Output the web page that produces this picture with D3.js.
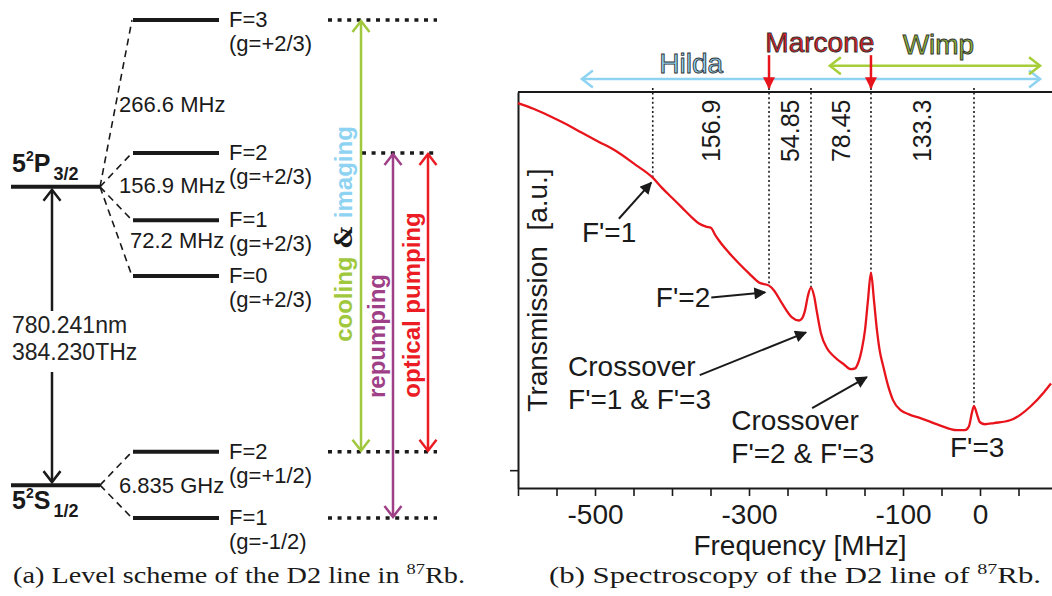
<!DOCTYPE html>
<html>
<head>
<meta charset="utf-8">
<script src="https://cdn.jsdelivr.net/npm/d3@7"></script>
<style>
  body { margin: 0; background: #fff; }
  svg { display: block; font-family: "Liberation Sans", Arial, sans-serif; }
</style>
</head>
<body>
<div id="figure"></div>
<script>
// ---------- panel (a): level scheme, positions in diagram units (0 = lowest level, 1 = highest)
const fineTerms = ["P", "S"];
const fineSubs = ["3/2", "1/2"];
const finePos = [0.665, 0.066];

const excitedNames = ["F=3", "F=2", "F=1", "F=0"];
const excitedG = ["(g=+2/3)", "(g=+2/3)", "(g=+2/3)", "(g=+2/3)"];
const excitedPos = [1.0, 0.733, 0.598, 0.486];

const groundNames = ["F=2", "F=1"];
const groundG = ["(g=+1/2)", "(g=-1/2)"];
const groundPos = [0.133, 0.0];

const splitLabels = ["266.6 MHz", "156.9 MHz", "72.2 MHz", "6.835 GHz"];
const splitPos = [0.815, 0.653, 0.542, 0.050];

const opticalLine = ["780.241nm", "384.230THz"];

// beams: lower level pos -> upper level pos
const beamNames = ["cooling & imaging", "repumping", "optical pumping"];
const beamLower = [0.133, 0.0, 0.133];
const beamUpper = [1.0, 0.733, 0.733];

// ---------- panel (b): spectroscopy
const freq = [-600, -579.2, -559.7, -537.7, -516.9, -494.8, -472.7, -449.4, -424.7, -413.0,
  -400.0, -387.0, -374.0, -364.9, -355.8, -349.4, -344.2, -339.0, -326.0, -313.0,
  -300.0, -287.0, -274.0, -267.5, -257.1, -244.2, -235.1, -231.2, -227.3, -223.4,
  -219.5, -215.6, -211.7, -206.5, -198.7, -189.6, -176.6, -167.5, -162.3, -158.4,
  -153.2, -149.4, -145.5, -141.6, -137.7, -133.8, -129.9, -126.0, -119.5, -113.0,
  -102.6, -92.2, -76.6, -53.2, -29.9, -19.5, -14.3, -10.4, -7.8, -3.9,
  0.0, 6.5, 18.2, 39.0, 53.2, 66.2, 83.1, 92.2];
const trans = [0.972, 0.957, 0.940, 0.919, 0.897, 0.874, 0.851, 0.819, 0.783, 0.758,
  0.733, 0.708, 0.683, 0.668, 0.660, 0.657, 0.640, 0.625, 0.594, 0.567,
  0.542, 0.519, 0.511, 0.499, 0.466, 0.431, 0.423, 0.428, 0.448, 0.486,
  0.506, 0.486, 0.443, 0.390, 0.353, 0.332, 0.312, 0.300, 0.302, 0.315,
  0.353, 0.398, 0.474, 0.544, 0.474, 0.398, 0.343, 0.310, 0.259, 0.222,
  0.196, 0.186, 0.176, 0.159, 0.146, 0.146, 0.156, 0.191, 0.207, 0.186,
  0.166, 0.161, 0.164, 0.171, 0.186, 0.207, 0.242, 0.264];

const lineNames = ["F'=1", "F'=2", "CO 1-3", "CO 2-3", "F'=3"];
const lineFreq = [-425, -274, -219.5, -141.6, -7.8];
const lineTrans = [0.783, 0.511, 0.506, 0.544, 0.207];
const gapLabels = ["156.9", "54.85", "78.45", "133.3"];

const freqTicks = [-600, -550, -500, -450, -400, -350, -300, -250, -200, -150, -100, -50, 0, 50, 100];
const freqTickLabels = [-500, -300, -100, 0];
const transTicks = [0.045];

// lasers: ranges and single lines
const laserNames = ["Hilda", "Wimp"];
const laserFrom = [-517, -195];
const laserTo = [78, 78];
const laserLevel = [1.033, 1.066];
const marconeLines = [-274, -141.6];

// annotation labels [freq, trans] of the text anchor, arrows tail -> head
const noteText = [["F'=1"], ["F'=2"], ["Crossover", "F'=1 & F'=3"], ["Crossover", "F'=2 & F'=3"], ["F'=3"]];
const noteFreq = [-517, -421, -535, -323, -39];
const noteTrans = [0.620, 0.458, 0.282, 0.146, 0.078];
const arrowTail = [[-469, 0.680], [-349, 0.481], [-364, 0.285], [-218, 0.202]];
const arrowHead = [[-427, 0.771], [-279, 0.494], [-226, 0.393], [-147, 0.280]];

const ink = "#1a1a1a";

const svg = d3.select("#figure")
    .append("svg")
    .attr("width", 1052)
    .attr("height", 596);
svg.append("rect").attr("width", 1052).attr("height", 596).attr("fill", "#fff");

const defs = svg.append("defs");
function triMarker(id, color) {
    defs.append("marker")
        .attr("id", id)
        .attr("viewBox", "0 0 10 10")
        .attr("refX", 9).attr("refY", 5)
        .attr("markerWidth", 15).attr("markerHeight", 12)
        .attr("markerUnits", "userSpaceOnUse")
        .attr("orient", "auto")
        .append("path").attr("d", "M0,0 L10,5 L0,10 z").attr("fill", color);
}
triMarker("tri-black", ink);
triMarker("tri-red", "#e8141c");

// open arrow head, dir: "up" | "down" | "left" | "right"
function chevron(g, px, py, dir, color, w) {
    const s = 8.5, l = 11;
    let d;
    if (dir === "up") d = `M${px - s},${py + l} L${px},${py} L${px + s},${py + l}`;
    if (dir === "down") d = `M${px - s},${py - l} L${px},${py} L${px + s},${py - l}`;
    if (dir === "left") d = `M${px + l},${py - s} L${px},${py} L${px + l},${py + s}`;
    if (dir === "right") d = `M${px - l},${py - s} L${px},${py} L${px - l},${py + s}`;
    g.append("path").attr("d", d).attr("fill", "none")
        .attr("stroke", color).attr("stroke-width", w || 2.5);
}

// ================= panel (a) =================
const yLev = d3.scaleLinear().domain([0, 1]).range([518, 20]);
const lev = svg.append("g").attr("class", "levels");

// fine structure levels
lev.selectAll("line.fine")
    .data(finePos)
    .join("line")
    .attr("class", "fine")
    .attr("x1", 11).attr("x2", 100)
    .attr("y1", d => yLev(d)).attr("y2", d => yLev(d))
    .attr("stroke", ink).attr("stroke-width", 4);

// fine structure labels 5^2 P_3/2 and 5^2 S_1/2
fineTerms.forEach((term, i) => {
    const base = i === 0 ? yLev(finePos[i]) - 15 : yLev(finePos[i]) + 24;
    const t = lev.append("text")
        .attr("x", 12).attr("y", base)
        .attr("font-weight", "bold").attr("font-size", 25).attr("fill", ink);
    t.append("tspan").text("5");
    t.append("tspan").attr("font-size", 14).attr("dy", -11).text("2");
    t.append("tspan").attr("dy", 11).text(term);
    t.append("tspan").attr("font-size", 18).attr("dx", 3).attr("dy", 8).text(fineSubs[i]);
});

// hyperfine levels with dashed connectors
function hyperfine(names, gs, pos, fineY) {
    const g = lev.append("g");
    g.selectAll("path.conn")
        .data(pos)
        .join("path")
        .attr("class", "conn")
        .attr("d", d => `M100,${yLev(fineY)} L132,${yLev(d)}`)
        .attr("fill", "none")
        .attr("stroke", ink).attr("stroke-width", 1.6)
        .attr("stroke-dasharray", "7,5");
    g.selectAll("line.hfs")
        .data(pos)
        .join("line")
        .attr("class", "hfs")
        .attr("x1", 133).attr("x2", 219)
        .attr("y1", d => yLev(d)).attr("y2", d => yLev(d))
        .attr("stroke", ink).attr("stroke-width", 4);
    g.selectAll("text.fname")
        .data(names)
        .join("text")
        .attr("class", "fname")
        .attr("x", 229).attr("y", (d, i) => yLev(pos[i]) + 7)
        .attr("font-size", 22).attr("fill", ink)
        .text(d => d);
    g.selectAll("text.gname")
        .data(gs)
        .join("text")
        .attr("class", "gname")
        .attr("x", 229).attr("y", (d, i) => yLev(pos[i]) + 31)
        .attr("font-size", 22).attr("fill", ink)
        .text(d => d);
}
hyperfine(excitedNames, excitedG, excitedPos, finePos[0]);
hyperfine(groundNames, groundG, groundPos, finePos[1]);

// splitting labels
lev.selectAll("text.split")
    .data(splitLabels)
    .join("text")
    .attr("class", "split")
    .attr("x", (d, i) => i === 2 ? 130 : 119)
    .attr("y", (d, i) => yLev(splitPos[i]))
    .attr("font-size", 22).attr("fill", ink)
    .text(d => d);

// optical transition arrow, broken around the wavelength label
const arrowX = 52;
const topY = yLev(finePos[0]) + 3, botY = yLev(finePos[1]) - 3;
lev.append("line").attr("x1", arrowX).attr("x2", arrowX).attr("y1", topY).attr("y2", 311)
    .attr("stroke", ink).attr("stroke-width", 2.5);
lev.append("line").attr("x1", arrowX).attr("x2", arrowX).attr("y1", 372).attr("y2", botY)
    .attr("stroke", ink).attr("stroke-width", 2.5);
chevron(lev, arrowX, topY, "up", ink);
chevron(lev, arrowX, botY, "down", ink);
lev.selectAll("text.optical")
    .data(opticalLine)
    .join("text")
    .attr("class", "optical")
    .attr("x", 12).attr("y", (d, i) => 333 + i * 27)
    .attr("font-size", 23).attr("fill", "#222")
    .text(d => d);

// dotted level extensions used by the beams
const dotted = [[328, 1.0], [362, 0.733], [328, 0.133], [328, 0.0]];
lev.selectAll("line.dot")
    .data(dotted)
    .join("line")
    .attr("class", "dot")
    .attr("x1", d => d[0]).attr("x2", 437)
    .attr("y1", d => yLev(d[1])).attr("y2", d => yLev(d[1]))
    .attr("stroke", ink).attr("stroke-width", 3.5)
    .attr("stroke-dasharray", "4,5.6");

// beams
const beamX = [361, 393, 428];
const beamColor = ["#a0c83c", "#9e3f87", "#ec1c24"];
beamNames.forEach((name, i) => {
    const y1 = yLev(beamUpper[i]), y2 = yLev(beamLower[i]);
    lev.append("line").attr("x1", beamX[i]).attr("x2", beamX[i]).attr("y1", y1 + 1).attr("y2", y2 - 1)
        .attr("stroke", beamColor[i]).attr("stroke-width", 2.5);
    chevron(lev, beamX[i], y1 + 1, "up", beamColor[i]);
    chevron(lev, beamX[i], y2 - 1, "down", beamColor[i]);
});
// beam labels (rotated)
const coolLabel = lev.append("text")
    .attr("transform", "translate(352,234) rotate(-90)")
    .attr("text-anchor", "middle")
    .attr("font-size", 24).attr("font-weight", "bold");
coolLabel.append("tspan").attr("fill", "#a0c83c").text("cooling");
coolLabel.append("tspan").attr("fill", ink).attr("font-family", "DejaVu Serif").text(" & ");
coolLabel.append("tspan").attr("fill", "#8fd3f3").text("imaging");
lev.append("text")
    .attr("transform", "translate(385,336) rotate(-90)")
    .attr("text-anchor", "middle")
    .attr("font-size", 24).attr("font-weight", "bold").attr("fill", beamColor[1])
    .text(beamNames[1]);
lev.append("text")
    .attr("transform", "translate(420,305) rotate(-90)")
    .attr("text-anchor", "middle")
    .attr("font-size", 24).attr("font-weight", "bold").attr("fill", beamColor[2])
    .text(beamNames[2]);

// ================= panel (b) =================
const x = d3.scaleLinear().domain([-600, 100]).range([518, 1057]);
const y = d3.scaleLinear().domain([0, 1]).range([488, 92]);
const spec = svg.append("g").attr("class", "spectrum");

// frame top
spec.append("line").attr("x1", x(-600)).attr("x2", 1060).attr("y1", y(1)).attr("y2", y(1))
    .attr("stroke", ink).attr("stroke-width", 2);

// axes
const xAxis = spec.append("g")
    .attr("transform", `translate(0, ${y(0)})`)
    .call(d3.axisBottom(x).tickValues(freqTicks)
        .tickFormat(d => freqTickLabels.includes(d) ? String(d) : "")
        .tickSize(8).tickSizeOuter(0).tickPadding(8));
xAxis.selectAll("text").attr("font-size", 28).attr("font-family", "Liberation Sans, Arial, sans-serif").attr("fill", ink);
xAxis.selectAll("line").attr("stroke", ink).attr("stroke-width", 1.6);
xAxis.select(".domain").attr("stroke", ink).attr("stroke-width", 2);

const yAxis = spec.append("g")
    .attr("transform", `translate(${x(-600)}, 0)`)
    .call(d3.axisLeft(y).tickValues(transTicks).tickFormat("").tickSize(8).tickSizeOuter(0));
yAxis.selectAll("line").attr("stroke", ink).attr("stroke-width", 1.6);
yAxis.select(".domain").attr("stroke", ink).attr("stroke-width", 2);

// axis labels
spec.append("text")
    .attr("x", 800).attr("y", 555)
    .attr("text-anchor", "middle")
    .attr("font-size", 28).attr("fill", ink)
    .text("Frequency [MHz]");
spec.append("text")
    .attr("transform", `translate(547, ${y(0.5)}) rotate(-90)`)
    .attr("text-anchor", "middle")
    .attr("font-size", 28).attr("fill", ink)
    .attr("xml:space", "preserve")
    .style("white-space", "pre")
    .text("Transmission  [a.u.]");

// dotted lines from frame to each line
spec.selectAll("line.marker")
    .data(lineFreq)
    .join("line")
    .attr("class", "marker")
    .attr("x1", d => x(d)).attr("x2", d => x(d))
    .attr("y1", y(1) - 4).attr("y2", (d, i) => y(lineTrans[i]))
    .attr("stroke", ink).attr("stroke-width", 1.6)
    .attr("stroke-dasharray", "2,2.6");

// spacing labels between lines
spec.selectAll("text.gap")
    .data(gapLabels)
    .join("text")
    .attr("class", "gap")
    .attr("transform", (d, i) => `translate(${x((lineFreq[i] + lineFreq[i + 1]) / 2)}, ${y(0.902)}) rotate(-90)`)
    .attr("text-anchor", "middle")
    .attr("dominant-baseline", "central")
    .attr("font-size", 25).attr("fill", ink)
    .text(d => d);

// spectrum trace
const pts = freq.map((f, i) => [f, trans[i]]);
spec.append("path")
    .datum(pts)
    .attr("fill", "none")
    .attr("stroke", "#e8141c")
    .attr("stroke-width", 2.3)
    .attr("stroke-linejoin", "round")
    .attr("d", d3.line().x(d => x(d[0])).y(d => y(d[1])).curve(d3.curveMonotoneX));

// annotations
noteText.forEach((lines, i) => {
    const t = spec.append("text")
        .attr("x", x(noteFreq[i])).attr("y", y(noteTrans[i]))
        .attr("font-size", 28).attr("fill", ink);
    lines.forEach((s, k) => {
        t.append("tspan").attr("x", x(noteFreq[i])).attr("dy", k === 0 ? 0 : 33).text(s);
    });
});
spec.selectAll("line.note")
    .data(arrowTail)
    .join("line")
    .attr("class", "note")
    .attr("x1", d => x(d[0])).attr("y1", d => y(d[1]))
    .attr("x2", (d, i) => x(arrowHead[i][0])).attr("y2", (d, i) => y(arrowHead[i][1]))
    .attr("stroke", ink).attr("stroke-width", 2)
    .attr("marker-end", "url(#tri-black)");

// laser ranges
const laserColor = ["#8fd3f3", "#a6ce39"];
laserNames.forEach((name, i) => {
    const yy = y(laserLevel[i]);
    spec.append("line").attr("x1", x(laserFrom[i])).attr("x2", x(laserTo[i]))
        .attr("y1", yy).attr("y2", yy)
        .attr("stroke", laserColor[i]).attr("stroke-width", 2.5);
    chevron(spec, x(laserFrom[i]), yy, "left", laserColor[i]);
    chevron(spec, x(laserTo[i]), yy, "right", laserColor[i]);
});
spec.selectAll("line.marcone")
    .data(marconeLines)
    .join("line")
    .attr("class", "marcone")
    .attr("x1", d => x(d)).attr("x2", d => x(d))
    .attr("y1", y(1.093)).attr("y2", y(1.010))
    .attr("stroke", "#e8141c").attr("stroke-width", 2.5)
    .attr("marker-end", "url(#tri-red)");

const laserLabels = ["Hilda", "Marcone", "Wimp"];
const laserLabelFreq = [-375, -208, -54];
const laserLabelTrans = [1.048, 1.101, 1.096];
const laserLabelFill = ["#8fd3f3", "#e31b23", "#8db33a"];
spec.selectAll("text.laser")
    .data(laserLabels)
    .join("text")
    .attr("class", "laser")
    .attr("x", (d, i) => x(laserLabelFreq[i]))
    .attr("y", (d, i) => y(laserLabelTrans[i]))
    .attr("text-anchor", "middle")
    .attr("font-size", 28)
    .attr("fill", (d, i) => laserLabelFill[i])
    .attr("stroke", "#333").attr("stroke-width", 0.9)
    .text(d => d);

// ================= captions =================
const captions = [["(a) Level scheme of the D2 line in ", "87", "Rb."],
                  ["(b) Spectroscopy of the D2 line of ", "87", "Rb."]];
const capX = [13, 549];
const capLen = [452, 492];
captions.forEach((c, i) => {
    const t = svg.append("text")
        .attr("x", capX[i]).attr("y", 583)
        .attr("font-family", "Liberation Serif, Times New Roman, serif")
        .attr("font-size", 23).attr("fill", ink)
        .attr("textLength", capLen[i]).attr("lengthAdjust", "spacingAndGlyphs");
    t.append("tspan").text(c[0]);
    t.append("tspan").attr("font-size", 15).attr("dy", -9).text(c[1]);
    t.append("tspan").attr("dy", 9).text(c[2]);
});
</script>
</body>
</html>
